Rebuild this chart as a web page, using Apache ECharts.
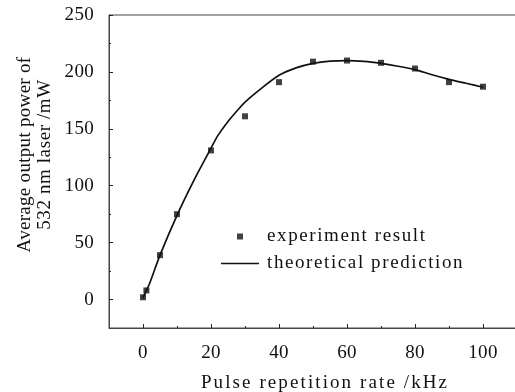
<!DOCTYPE html>
<html>
<head>
<meta charset="utf-8">
<script src="https://cdn.jsdelivr.net/npm/echarts@6/dist/echarts.min.js"></script>
<style>
html,body{margin:0;padding:0;background:#fff;}
#c{width:515px;height:392px;}
</style>
</head>
<body>
<div id="c"></div>
<script>
// ---- data ----
const xTicks = [0, 20, 40, 60, 80, 100];
const xMinorTicks = [10, 30, 50, 70, 90];
const yTicks = [0, 50, 100, 150, 200, 250];
const yMinorTicks = [25, 75, 125, 175, 225];

const expX = [0, 1, 5, 10, 20, 30, 40, 50, 60, 70, 80, 90, 100];
const expY = [2, 8, 39, 75, 131, 161, 191, 209, 210, 208, 203, 191, 187];

const theoX = [0, 1, 2, 5, 10, 15, 20, 22, 25, 28, 30, 35, 40, 45, 50, 55, 60, 65, 70, 75, 80, 85, 90, 95, 100];
const theoY = [1.5, 8, 14.5, 39, 74, 105, 133, 144, 156.5, 167, 173.5, 186, 197, 203.5, 207.5, 209.5, 210, 209.3, 207.5, 205, 202, 197.5, 193.5, 190, 186.5];

const xName = 'Pulse repetition rate /kHz';
const yName = 'Average output power of\n532 nm laser /mW';
const expName = 'experiment result';
const theoName = 'theoretical prediction';

// ---- text letter spacing (style) ----
const SPACING = {};
SPACING[xName] = 2.1;
SPACING[expName] = 1.6;
SPACING[theoName] = 1.6;
SPACING['Average output power of'] = 0.3;
SPACING['532 nm laser /mW'] = 0.6;
(function () {
  const P = CanvasRenderingContext2D.prototype;
  const orig = P.fillText;
  P.fillText = function (t, x, y, m) {
    const sp = SPACING[t];
    if (sp && 'letterSpacing' in this) {
      const prev = this.letterSpacing;
      this.letterSpacing = sp + 'px';
      if (m === undefined) orig.call(this, t, x, y); else orig.call(this, t, x, y, m);
      this.letterSpacing = prev;
    } else {
      if (m === undefined) orig.call(this, t, x, y); else orig.call(this, t, x, y, m);
    }
  };
})();

const FONT = 'Liberation Serif';
const INK = '#111';

const chart = echarts.init(document.getElementById('c'), null, {renderer: 'canvas'});
chart.setOption({
  animation: false,
  backgroundColor: '#fff',
  grid: {left: 109, top: 15, width: 408, height: 313, containLabel: false, outerBoundsMode: 'none',
         show: true, borderColor: '#444', borderWidth: 1},
  legend: {
    orient: 'vertical', left: 216, top: 222, itemWidth: 38, itemHeight: 6, itemGap: 8,
    textStyle: {fontFamily: FONT, fontSize: 19, color: INK, padding: [0, 0, 0, 3]},
    data: [
      {name: expName, icon: 'path://M0,0H1V1H0Z'},
      {name: theoName, icon: 'path://M0,0H38V1.7H0Z'}
    ]
  },
  xAxis: [{
    type: 'value', min: -10, max: 110,
    name: xName, nameLocation: 'middle', nameGap: 46,
    nameTextStyle: {fontFamily: FONT, fontSize: 19, color: INK, padding: [0, 0, 0, 24]},
    axisLine: {show: true, onZero: false, lineStyle: {color: '#444', width: 1}},
    axisTick: {show: true, inside: true, length: 4, customValues: xTicks, lineStyle: {color: '#222'}},
    axisLabel: {customValues: xTicks, fontFamily: FONT, fontSize: 19, color: INK, margin: 16},
    splitLine: {show: false}
  }, {
    type: 'value', min: -10, max: 110, position: 'bottom',
    axisLine: {show: false, onZero: false},
    axisTick: {show: true, inside: true, length: 2, customValues: xMinorTicks, lineStyle: {color: '#222'}},
    axisLabel: {show: false},
    splitLine: {show: false}
  }],
  yAxis: [{
    type: 'value', min: -25, max: 250,
    name: yName, nameLocation: 'middle', nameGap: 54, nameRotate: 90,
    nameTextStyle: {fontFamily: FONT, fontSize: 19, color: INK, lineHeight: 20, align: 'center', padding: [0, 0, 0, 34]},
    axisLine: {show: true, onZero: false, lineStyle: {color: '#444', width: 1}},
    axisTick: {show: true, inside: true, length: 4, customValues: yTicks, lineStyle: {color: '#222'}},
    axisLabel: {customValues: yTicks, fontFamily: FONT, fontSize: 19, color: INK, margin: 15},
    splitLine: {show: false}
  }, {
    type: 'value', min: -25, max: 250, position: 'left',
    axisLine: {show: false, onZero: false},
    axisTick: {show: true, inside: true, length: 2, customValues: yMinorTicks, lineStyle: {color: '#222'}},
    axisLabel: {show: false},
    splitLine: {show: false}
  }],
  series: [{
    name: theoName, type: 'line', xAxisIndex: 0, yAxisIndex: 0,
    data: theoX.map((x, i) => [x, theoY[i]]),
    showSymbol: false, symbol: 'none', smooth: 0.2,
    lineStyle: {color: INK, width: 1.7}, itemStyle: {color: INK}, z: 2
  }, {
    name: expName, type: 'scatter', xAxisIndex: 0, yAxisIndex: 0,
    data: expX.map((x, i) => [x, expY[i]]),
    symbol: 'rect', symbolSize: 6,
    itemStyle: {color: INK}, z: 3
  }]
});
</script>
</body>
</html>
